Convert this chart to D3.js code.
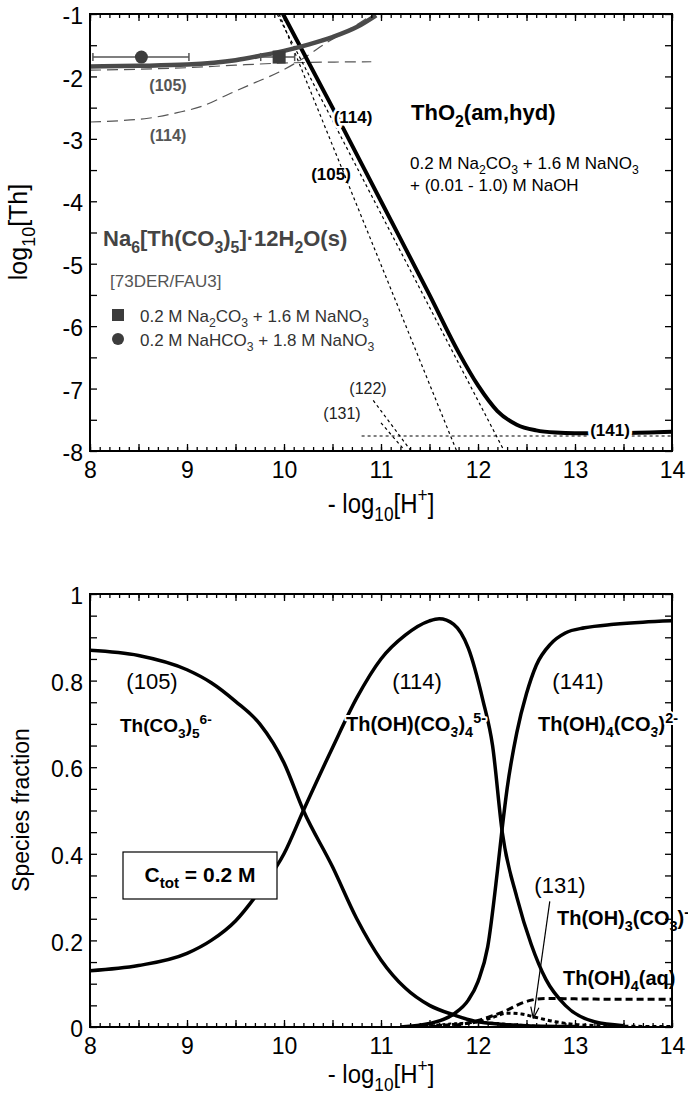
<!DOCTYPE html>
<html lang="en">
<head>
<meta charset="UTF-8">
<title>Th solubility and speciation in carbonate solution</title>
<script src="https://d3js.org/d3.v7.min.js"></script>
<style>
    body { margin: 0; background: #fff; }
    svg { display: block; font-family: "Liberation Sans", Arial, Helvetica, sans-serif; }
    text { white-space: pre; }
</style>
</head>
<body>
<svg id="chart"></svg>
<script>
// ---- axis ticks (both panels share the x axis: -log10[H+])
var xTicks = [8, 9, 10, 11, 12, 13, 14];
var yTicksTop = [-1, -2, -3, -4, -5, -6, -7, -8];
var yTicksBottom = [0, 0.2, 0.4, 0.6, 0.8, 1];

// ---- top panel: log10[Th]
// Na6[Th(CO3)5].12H2O(s) solubility (thick grey) and its two species (grey dashes)
var na6SolX = [8.0, 8.5, 9.0, 9.5, 9.75, 10.0, 10.25, 10.5, 10.75, 10.95];
var na6SolY = [-1.84, -1.83, -1.81, -1.74, -1.67, -1.59, -1.49, -1.37, -1.21, -1.02];
var na6Sp105X = [8.0, 8.5, 9.0, 9.5, 10.0, 10.5, 10.9];
var na6Sp105Y = [-1.90, -1.885, -1.86, -1.82, -1.785, -1.77, -1.765];
var na6Sp114X = [8.0, 8.3, 8.6, 8.9, 9.15, 9.45, 9.7, 9.95, 10.2, 10.45, 10.7, 10.92];
var na6Sp114Y = [-2.73, -2.71, -2.67, -2.58, -2.48, -2.27, -2.1, -1.93, -1.71, -1.45, -1.22, -1.0];

// ThO2(am,hyd) solubility (thick black) and species lines (short dashes)
var thoSolX = [9.99, 10.5, 11.0, 11.5, 11.8, 12.0, 12.2, 12.4, 12.6, 12.8, 13.0, 13.5, 14.0];
var thoSolY = [-1.0, -2.5, -4.0, -5.5, -6.42, -6.95, -7.36, -7.58, -7.67, -7.705, -7.715, -7.71, -7.69];
var thoSp105X = [9.95, 11.78];
var thoSp105Y = [-1.0, -8.0];
var thoSp114X = [9.93, 12.27];
var thoSp114Y = [-1.0, -8.0];
var thoSp122X = [10.92, 11.31];
var thoSp122Y = [-7.19, -8.0];
var thoSp131X = [11.0, 11.25];
var thoSp131Y = [-7.55, -8.0];
var thoSp141X = [10.8, 14.0];
var thoSp141Y = [-7.76, -7.76];

// [73DER/FAU3] data points with horizontal error bars
var expKind = ["square", "circle"];
var expX = [9.95, 8.53];
var expY = [-1.69, -1.69];
var expXLo = [9.76, 8.03];
var expXHi = [10.11, 9.02];

// ---- bottom panel: species fraction, C_tot = 0.2 M
var frac105X = [8, 8.5, 9, 9.25, 9.5, 9.75, 10, 10.2, 10.5, 10.75, 11, 11.25, 11.5, 11.75, 12, 12.5, 13];
var frac105Y = [0.87, 0.858, 0.825, 0.795, 0.752, 0.70, 0.61, 0.50, 0.37, 0.25, 0.155, 0.09, 0.05, 0.028, 0.012, 0.003, 0.001];
var frac114X = [8, 8.5, 9, 9.25, 9.5, 9.75, 10, 10.2, 10.5, 10.75, 11, 11.25, 11.5, 11.6, 11.75, 11.9, 12.05, 12.15, 12.25, 12.4, 12.55, 12.7, 12.9, 13.2, 13.5];
var frac114Y = [0.13, 0.142, 0.17, 0.2, 0.245, 0.315, 0.40, 0.50, 0.645, 0.76, 0.85, 0.905, 0.938, 0.943, 0.93, 0.875, 0.755, 0.65, 0.45, 0.30, 0.19, 0.11, 0.05, 0.012, 0.003];
var frac141X = [11.2, 11.5, 11.75, 11.9, 12.0, 12.1, 12.2, 12.25, 12.3, 12.4, 12.5, 12.6, 12.75, 12.9, 13.1, 13.4, 13.7, 14];
var frac141Y = [0.0, 0.008, 0.03, 0.062, 0.105, 0.185, 0.36, 0.46, 0.55, 0.68, 0.77, 0.835, 0.885, 0.91, 0.922, 0.93, 0.935, 0.938];
var fracAqX = [11.3, 11.6, 11.8, 12.0, 12.15, 12.3, 12.45, 12.55, 12.7, 13.0, 13.5, 14];
var fracAqY = [0.0, 0.002, 0.005, 0.015, 0.026, 0.039, 0.055, 0.062, 0.066, 0.065, 0.064, 0.064];
var frac131X = [11.3, 11.7, 12.0, 12.15, 12.3, 12.45, 12.6, 12.8, 13.05, 13.5, 14];
var frac131Y = [0.0, 0.005, 0.012, 0.022, 0.032, 0.03, 0.022, 0.012, 0.005, 0.002, 0.001];
var frac122X = [11.2, 11.5, 11.8, 12.0, 12.2, 12.5, 12.8, 13.2];
var frac122Y = [0.0, 0.004, 0.009, 0.011, 0.009, 0.004, 0.0015, 0.0];

(function() {
    var width = 688, height = 1101;
    var svg = d3.select("#chart").attr("width", width).attr("height", height);

    // scales
    var x = d3.scaleLinear().domain([8, 14]).range([90, 672]);
    var yTop = d3.scaleLinear().domain([-8, -1]).range([451, 14]);
    var yBot = d3.scaleLinear().domain([0, 1]).range([1027, 594]);

    function zip(xs, ys) { return xs.map(function(v, i) { return [v, ys[i]]; }); }

    // text with sub/superscripts: parts = ["plain", ["2", "sub"], ["6-", "sup"]]
    function rich(g, px, py, parts, o) {
        o = o || {};
        var size = o.size || 16;
        var tr = "translate(" + px + "," + py + ")" + (o.rotate ? " rotate(" + o.rotate + ")" : "") + (o.sy ? " scale(1," + o.sy + ")" : "");
        var t = g.append("text")
            .attr("transform", tr)
            .attr("font-size", size)
            .attr("font-weight", o.bold ? "bold" : "normal")
            .attr("fill", o.color || "#000")
            .attr("text-anchor", o.anchor || "start");
        if (o.halo) {
            t.attr("stroke", "#fff").attr("stroke-width", o.halo)
             .attr("paint-order", "stroke").attr("stroke-linejoin", "round");
        }
        var cur = 0;
        parts.forEach(function(p) {
            var s = typeof p === "string" ? p : p[0];
            var m = typeof p === "string" ? "n" : p[1];
            var off = m === "sub" ? size * 0.3 : (m === "sup" ? -size * 0.42 : 0);
            var ts = t.append("tspan").text(s).attr("dy", off - cur);
            if (m !== "n") ts.attr("font-size", size * 0.72);
            cur = off;
        });
        return t;
    }

    // frame + inward ticks + labels
    function axes(g, y, yStep, yLabels, yFmt) {
        var x0 = x.range()[0], x1 = x.range()[1], yb = y.range()[0], yt = y.range()[1];
        var xMinor = d3.range(80, 141).map(function(d) { return d / 10; });
        var xMid = d3.range(16, 29).map(function(d) { return d / 2; });
        var yd = y.domain();
        var nY = Math.round((yd[1] - yd[0]) / yStep);
        var yMinor = d3.range(0, nY + 1).map(function(i) { return +(yd[0] + i * yStep).toFixed(3); });

        function clean(sel) { sel.select(".domain").remove(); sel.attr("font-family", null); }

        g.append("g").attr("transform", "translate(0," + yb + ")")
            .call(d3.axisBottom(x).tickValues(xMinor).tickSizeInner(-4).tickSizeOuter(0).tickFormat(""))
            .call(clean);
        g.append("g").attr("transform", "translate(0," + yb + ")")
            .call(d3.axisBottom(x).tickValues(xMid).tickSizeInner(-7).tickSizeOuter(0).tickFormat(""))
            .call(clean);
        g.append("g").attr("transform", "translate(0," + yt + ")")
            .call(d3.axisTop(x).tickValues(xMinor).tickSizeInner(-4).tickSizeOuter(0).tickFormat(""))
            .call(clean);
        g.append("g").attr("transform", "translate(0," + yt + ")")
            .call(d3.axisTop(x).tickValues(xMid).tickSizeInner(-7).tickSizeOuter(0).tickFormat(""))
            .call(clean);
        g.append("g").attr("transform", "translate(" + x0 + ",0)")
            .call(d3.axisLeft(y).tickValues(yMinor).tickSizeInner(-7).tickSizeOuter(0).tickFormat(""))
            .call(clean);
        g.append("g").attr("transform", "translate(" + x1 + ",0)")
            .call(d3.axisRight(y).tickValues(yMinor).tickSizeInner(-7).tickSizeOuter(0).tickFormat(""))
            .call(clean);
        g.selectAll(".tick line").attr("stroke-width", 1.3);

        // labels
        var xl = g.append("g").attr("transform", "translate(0," + yb + ")")
            .call(d3.axisBottom(x).tickValues(xTicks).tickSize(0).tickPadding(11).tickFormat(d3.format("d")))
            .call(clean);
        xl.attr("font-size", 23);
        var yl = g.append("g").attr("transform", "translate(" + x0 + ",0)")
            .call(d3.axisLeft(y).tickValues(yLabels).tickSize(0).tickPadding(7).tickFormat(yFmt))
            .call(clean);
        yl.attr("font-size", 23);
        yl.selectAll("text").attr("dy", "0.42em");

        g.append("rect").attr("x", x0).attr("y", yt).attr("width", x1 - x0).attr("height", yb - yt)
            .attr("fill", "none").attr("stroke", "#000").attr("stroke-width", 2);
    }

    function clip(id, y) {
        svg.append("clipPath").attr("id", id).append("rect")
            .attr("x", x.range()[0]).attr("y", y.range()[1])
            .attr("width", x.range()[1] - x.range()[0]).attr("height", y.range()[0] - y.range()[1]);
    }
    clip("clipTop", yTop);
    clip("clipBot", yBot);

    // =================== TOP PANEL ===================
    var top = svg.append("g");
    var lineT = d3.line().x(function(d) { return x(d[0]); }).y(function(d) { return yTop(d[1]); }).curve(d3.curveMonotoneX);
    var plotT = top.append("g").attr("clip-path", "url(#clipTop)");

    // grey dashed species (Na6 phase)
    [[na6Sp105X, na6Sp105Y], [na6Sp114X, na6Sp114Y]].forEach(function(s) {
        plotT.append("path").datum(zip(s[0], s[1])).attr("d", lineT)
            .attr("fill", "none").attr("stroke", "#555").attr("stroke-width", 1.2).attr("stroke-dasharray", "11,6");
    });
    // short dashed species (ThO2 phase)
    [[thoSp105X, thoSp105Y], [thoSp114X, thoSp114Y], [thoSp122X, thoSp122Y], [thoSp131X, thoSp131Y], [thoSp141X, thoSp141Y]].forEach(function(s) {
        plotT.append("path").datum(zip(s[0], s[1])).attr("d", lineT)
            .attr("fill", "none").attr("stroke", "#000").attr("stroke-width", 1.2).attr("stroke-dasharray", "3,3");
    });
    // ThO2 solubility
    plotT.append("path").datum(zip(thoSolX, thoSolY)).attr("d", lineT)
        .attr("fill", "none").attr("stroke", "#000").attr("stroke-width", 4);
    // Na6 phase solubility
    plotT.append("path").datum(zip(na6SolX, na6SolY)).attr("d", lineT)
        .attr("fill", "none").attr("stroke", "#4a4a4a").attr("stroke-width", 4.5);

    // experimental points
    expX.forEach(function(v, i) {
        var cy = yTop(expY[i]);
        plotT.append("line").attr("x1", x(expXLo[i])).attr("x2", x(expXHi[i])).attr("y1", cy).attr("y2", cy)
            .attr("stroke", "#555").attr("stroke-width", 1.5);
        [expXLo[i], expXHi[i]].forEach(function(e) {
            plotT.append("line").attr("x1", x(e)).attr("x2", x(e)).attr("y1", cy - 4).attr("y2", cy + 4)
                .attr("stroke", "#555").attr("stroke-width", 1.5);
        });
        if (expKind[i] === "square") {
            plotT.append("rect").attr("x", x(v) - 6.5).attr("y", cy - 6.5).attr("width", 13).attr("height", 13).attr("fill", "#3c3c3c");
        } else {
            plotT.append("circle").attr("cx", x(v)).attr("cy", cy).attr("r", 6.5).attr("fill", "#3c3c3c");
        }
    });

    axes(top, yTop, 0.5, yTicksTop, function(d) { return String(d); });

    // top labels
    rich(top, 168, 91, ["(105)"], { size: 16, bold: true, color: "#555", anchor: "middle" });
    rich(top, 168, 141, ["(114)"], { size: 16, bold: true, color: "#555", anchor: "middle" });
    rich(top, 353, 123, ["(114)"], { size: 17, bold: true, anchor: "middle", halo: 5 });
    rich(top, 331, 180, ["(105)"], { size: 17, bold: true, anchor: "middle" });
    rich(top, 610, 436, ["(141)"], { size: 17, bold: true, anchor: "middle", halo: 6 });
    rich(top, 368, 394, ["(122)"], { size: 16, color: "#222", anchor: "middle" });
    rich(top, 342, 419, ["(131)"], { size: 16, color: "#222", anchor: "middle" });

    rich(top, 411, 120, ["ThO", ["2", "sub"], "(am,hyd)"], { size: 22, bold: true });
    rich(top, 410, 169, ["0.2 M Na", ["2", "sub"], "CO", ["3", "sub"], " + 1.6 M NaNO", ["3", "sub"]], { size: 17 });
    rich(top, 410, 191, ["+ (0.01 - 1.0) M NaOH"], { size: 17 });

    rich(top, 103, 246, ["Na", ["6", "sub"], "[Th(CO", ["3", "sub"], ")", ["5", "sub"], "]\u00b712H", ["2", "sub"], "O(s)"], { size: 22, bold: true, color: "#444" });
    rich(top, 110, 287, ["[73DER/FAU3]"], { size: 17, color: "#555" });
    top.append("rect").attr("x", 112).attr("y", 309).attr("width", 12).attr("height", 12).attr("fill", "#3c3c3c");
    rich(top, 140, 322, ["0.2 M Na", ["2", "sub"], "CO", ["3", "sub"], " + 1.6 M NaNO", ["3", "sub"]], { size: 17, color: "#333" });
    top.append("circle").attr("cx", 118).attr("cy", 339).attr("r", 6).attr("fill", "#3c3c3c");
    rich(top, 140, 346, ["0.2 M NaHCO", ["3", "sub"], " + 1.8 M NaNO", ["3", "sub"]], { size: 17, color: "#333" });

    rich(top, 381, 513, ["- log", ["10", "sub"], "[H", ["+", "sup"], "]"], { size: 24, anchor: "middle", sy: 1.12 });
    rich(top, 27, 232, ["log", ["10", "sub"], "[Th]"], { size: 25, anchor: "middle", rotate: -90 });

    // =================== BOTTOM PANEL ===================
    var bot = svg.append("g");
    var lineB = d3.line().x(function(d) { return x(d[0]); }).y(function(d) { return yBot(d[1]); }).curve(d3.curveMonotoneX);
    var plotB = bot.append("g").attr("clip-path", "url(#clipBot)");

    plotB.append("path").datum(zip(frac122X, frac122Y)).attr("d", lineB)
        .attr("fill", "none").attr("stroke", "#000").attr("stroke-width", 2).attr("stroke-dasharray", "3,3");
    plotB.append("path").datum(zip(frac131X, frac131Y)).attr("d", lineB)
        .attr("fill", "none").attr("stroke", "#000").attr("stroke-width", 3).attr("stroke-dasharray", "4,3");
    plotB.append("path").datum(zip(fracAqX, fracAqY)).attr("d", lineB)
        .attr("fill", "none").attr("stroke", "#000").attr("stroke-width", 3).attr("stroke-dasharray", "7,4");
    [[frac105X, frac105Y], [frac114X, frac114Y], [frac141X, frac141Y]].forEach(function(s) {
        plotB.append("path").datum(zip(s[0], s[1])).attr("d", lineB)
            .attr("fill", "none").attr("stroke", "#000").attr("stroke-width", 3.5);
    });

    axes(bot, yBot, 0.05, yTicksBottom, function(d) { return String(+d.toFixed(1)); });

    rich(bot, 152, 689, ["(105)"], { size: 22, anchor: "middle" });
    rich(bot, 417, 689, ["(114)"], { size: 22, anchor: "middle" });
    rich(bot, 578, 689, ["(141)"], { size: 22, anchor: "middle" });
    rich(bot, 120, 732, ["Th(CO", ["3", "sub"], ")", ["5", "sub"], ["6-", "sup"]], { size: 19, bold: true });
    rich(bot, 346, 731, ["Th(OH)(CO", ["3", "sub"], ")", ["4", "sub"], ["5-", "sup"]], { size: 20, bold: true, halo: 4 });
    rich(bot, 538, 731, ["Th(OH)", ["4", "sub"], "(CO", ["3", "sub"], ")", ["2-", "sup"]], { size: 20, bold: true, halo: 4 });

    // C_tot box
    bot.append("rect").attr("x", 123).attr("y", 852).attr("width", 154).attr("height", 47)
        .attr("fill", "#fff").attr("stroke", "#000").attr("stroke-width", 1.2);
    rich(bot, 200, 882, ["C", ["tot", "sub"], " = 0.2 M"], { size: 21, bold: true, anchor: "middle" });

    // (131) arrow
    var ax0 = x(12.74), ay0 = yBot(0.29), ax1 = x(12.57), ay1 = yBot(0.02);
    bot.append("line").attr("x1", ax0).attr("y1", ay0).attr("x2", ax1).attr("y2", ay1)
        .attr("stroke", "#000").attr("stroke-width", 1.2);
    var ang = Math.atan2(ay1 - ay0, ax1 - ax0);
    [-0.35, 0.35].forEach(function(a) {
        bot.append("line").attr("x1", ax1).attr("y1", ay1)
            .attr("x2", ax1 - 12 * Math.cos(ang + a)).attr("y2", ay1 - 12 * Math.sin(ang + a))
            .attr("stroke", "#000").attr("stroke-width", 1.2);
    });
    rich(bot, 560, 893, ["(131)"], { size: 22, anchor: "middle" });
    rich(bot, 557, 925, ["Th(OH)", ["3", "sub"], "(CO", ["3", "sub"], ")", ["-", "sup"]], { size: 20, bold: true });
    rich(bot, 563, 985, ["Th(OH)", ["4", "sub"], "(aq)"], { size: 20, bold: true });

    rich(bot, 381, 1083, ["- log", ["10", "sub"], "[H", ["+", "sup"], "]"], { size: 24, anchor: "middle", sy: 1.1 });
    rich(bot, 29, 810, ["Species fraction"], { size: 23, anchor: "middle", rotate: -90 });
})();
</script>
</body>
</html>
